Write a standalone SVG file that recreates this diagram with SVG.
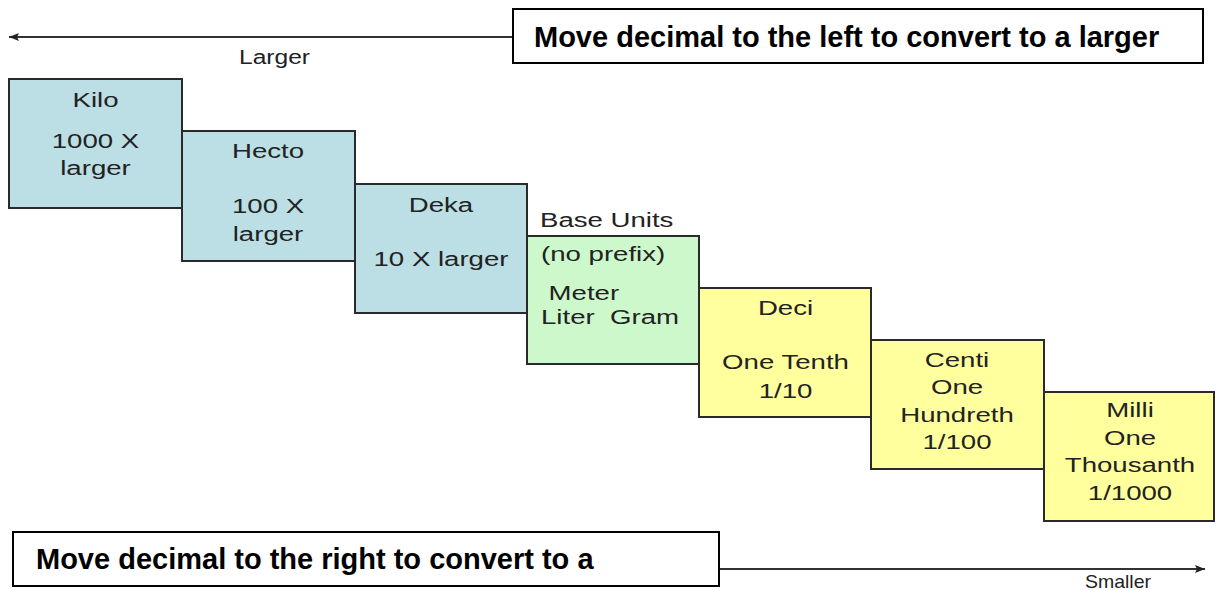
<svg xmlns="http://www.w3.org/2000/svg" width="1215" height="590" viewBox="0 0 1215 590">
  <defs>
    <marker id="arrow" viewBox="0 0 10 8" refX="10" refY="4" markerWidth="10" markerHeight="8" markerUnits="userSpaceOnUse" orient="auto">
      <path d="M0,0 L10,4 L0,8 L2,4 Z" fill="#222"/>
    </marker>
  </defs>
  <style>
    .lbl { font-family: "Liberation Sans", Arial, sans-serif; font-size: 20px; fill: #222; }
    .mid { text-anchor: middle; }
    .note { font-family: "Liberation Sans", Arial, sans-serif; font-size: 29px; font-weight: bold; fill: #000; }
    .notebox { fill: #fff; stroke: #000; stroke-width: 2; }
    .blue { fill: #bbdfe4; stroke: #2a2a2a; stroke-width: 2; }
    .green { fill: #ccf8cc; stroke: #2a2a2a; stroke-width: 2; }
    .yellow { fill: #ffff9e; stroke: #2a2a2a; stroke-width: 2; }
    .conn { stroke: #333; stroke-width: 2; fill: none; }
  </style>
  <rect width="1215" height="590" fill="#fff"/>

  <g id="connectors">
    <path class="conn" d="M513,37 L9,37" marker-end="url(#arrow)"/>
    <path class="conn" d="M719,569 L1205,569" marker-end="url(#arrow)"/>
  </g>

  <g id="larger-label">
    <text class="lbl" x="239" y="64" textLength="71" lengthAdjust="spacingAndGlyphs">Larger</text>
  </g>
  <g id="smaller-label">
    <text class="lbl" x="1085" y="588" font-size="19" textLength="66" lengthAdjust="spacingAndGlyphs" style="font-size:19px">Smaller</text>
  </g>

  <g id="note-left">
    <rect class="notebox" x="513" y="9" width="690" height="54"/>
    <text class="note" x="534" y="47">Move decimal to the left to convert to a larger</text>
  </g>

  <g id="note-right">
    <rect class="notebox" x="13" y="532" width="706" height="54"/>
    <text class="note" x="36" y="569">Move decimal to the right to convert to a</text>
  </g>

  <g id="kilo">
    <rect class="blue" x="9" y="79" width="173" height="129"/>
    <g transform="translate(95.5 0) scale(1.38 1)">
      <text class="lbl mid" x="0" y="107">Kilo</text>
      <text class="lbl mid" x="0" y="148">1000 X</text>
      <text class="lbl mid" x="0" y="175">larger</text>
    </g>
  </g>

  <g id="hecto">
    <rect class="blue" x="182" y="131" width="173" height="130"/>
    <g transform="translate(268 0) scale(1.38 1)">
      <text class="lbl mid" x="0" y="158">Hecto</text>
      <text class="lbl mid" x="0" y="213">100 X</text>
      <text class="lbl mid" x="0" y="241">larger</text>
    </g>
  </g>

  <g id="deka">
    <rect class="blue" x="355" y="184" width="172" height="129"/>
    <g transform="translate(441 0) scale(1.38 1)">
      <text class="lbl mid" x="0" y="212">Deka</text>
      <text class="lbl mid" x="0" y="266">10 X larger</text>
    </g>
  </g>

  <g id="base">
    <g transform="translate(540 0) scale(1.38 1)">
      <text class="lbl" x="0" y="227">Base Units</text>
    </g>
    <rect class="green" x="527" y="236" width="172" height="128"/>
    <g transform="translate(541 0) scale(1.38 1)">
      <text class="lbl" x="0" y="261">(no prefix)</text>
      <text class="lbl" x="5.5" y="300">Meter</text>
      <text class="lbl" x="0" y="324" xml:space="preserve">Liter  Gram</text>
    </g>
  </g>

  <g id="deci">
    <rect class="yellow" x="699" y="288" width="172" height="129"/>
    <g transform="translate(785.5 0) scale(1.38 1)">
      <text class="lbl mid" x="0" y="315">Deci</text>
      <text class="lbl mid" x="0" y="369">One Tenth</text>
      <text class="lbl mid" x="0" y="398">1/10</text>
    </g>
  </g>

  <g id="centi">
    <rect class="yellow" x="871" y="340" width="173" height="129"/>
    <g transform="translate(957 0) scale(1.38 1)">
      <text class="lbl mid" x="0" y="367">Centi</text>
      <text class="lbl mid" x="0" y="394">One</text>
      <text class="lbl mid" x="0" y="422">Hundreth</text>
      <text class="lbl mid" x="0" y="449">1/100</text>
    </g>
  </g>

  <g id="milli">
    <rect class="yellow" x="1044" y="392" width="170" height="129"/>
    <g transform="translate(1130 0) scale(1.38 1)">
      <text class="lbl mid" x="0" y="417">Milli</text>
      <text class="lbl mid" x="0" y="445">One</text>
      <text class="lbl mid" x="0" y="472">Thousanth</text>
      <text class="lbl mid" x="0" y="500">1/1000</text>
    </g>
  </g>
</svg>
